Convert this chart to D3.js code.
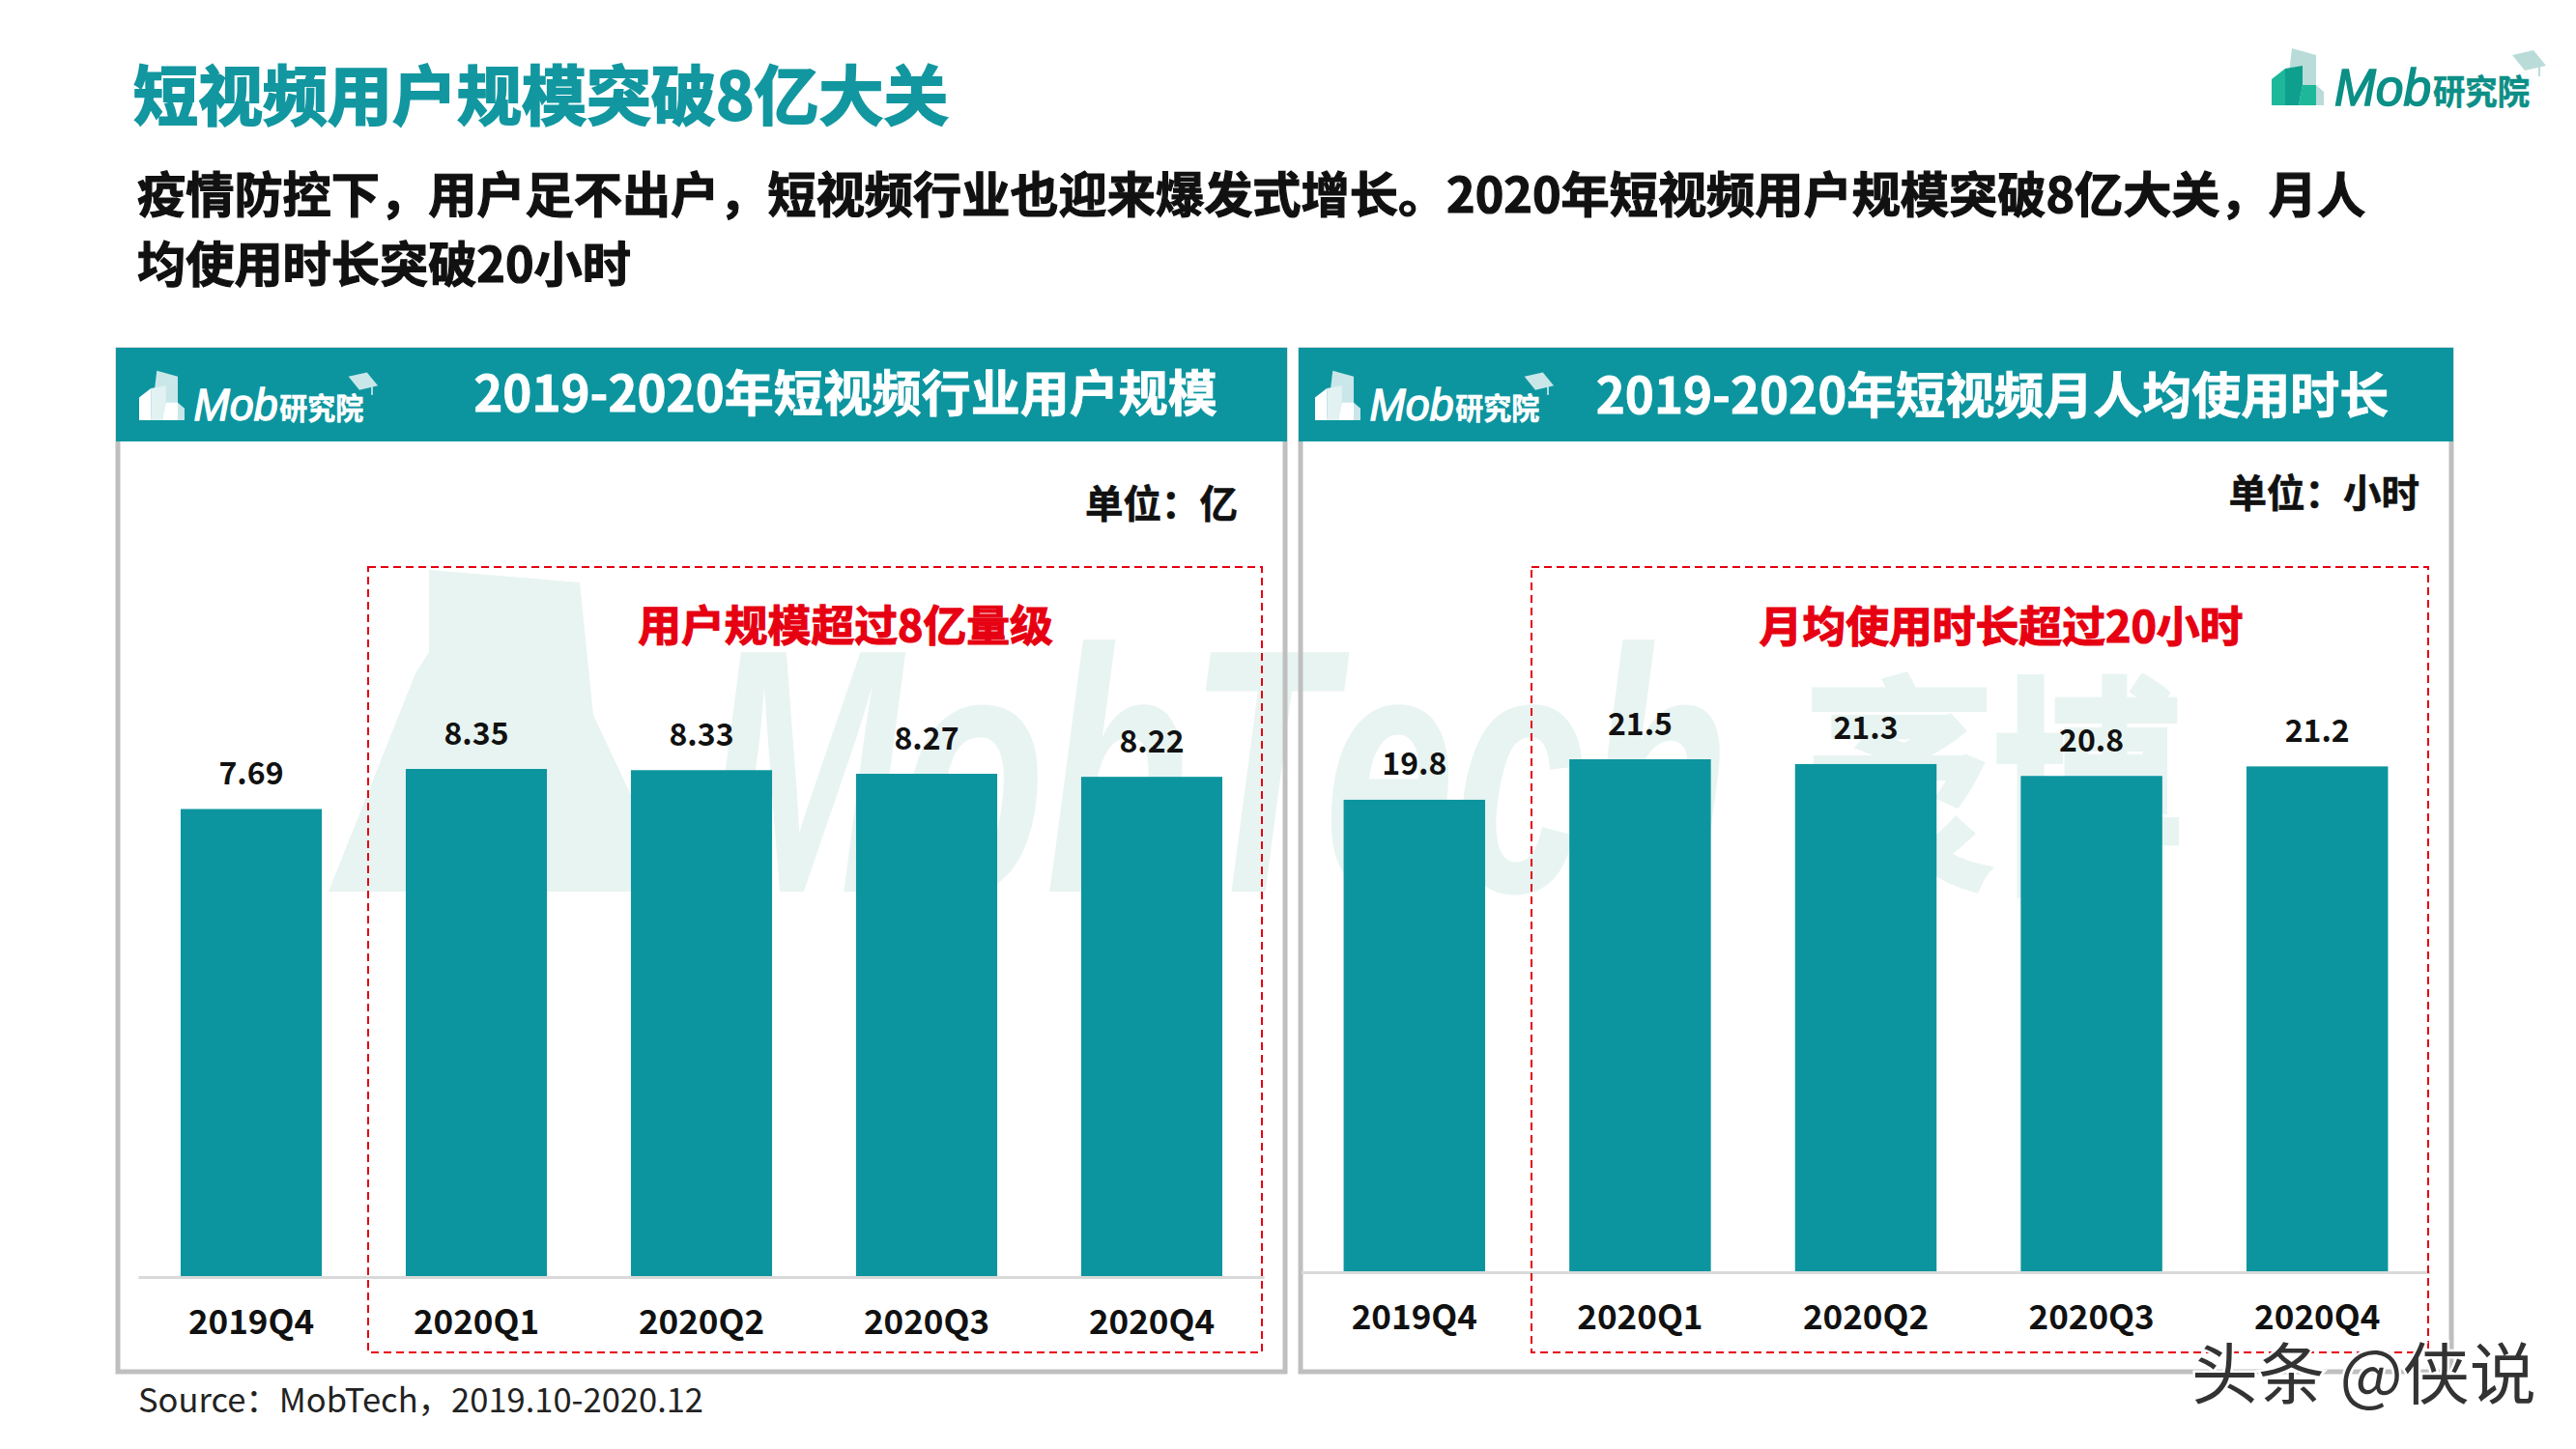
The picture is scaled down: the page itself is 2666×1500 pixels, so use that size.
<!DOCTYPE html>
<html>
<head>
<meta charset="utf-8">
<script src="https://cdn.jsdelivr.net/npm/d3@7/dist/d3.min.js"></script>
<style>
    body { margin: 0; background: #fff; }
    text { font-family: "Noto Sans CJK SC", "Noto Sans", sans-serif; }
    .axis path, .axis line { display: none; }
</style>
</head>
<body>
<div id="chart"></div>
<script>
var quarters = ["2019Q4", "2020Q1", "2020Q2", "2020Q3", "2020Q4"];
var userValues = [7.69, 8.35, 8.33, 8.27, 8.22];
var userLabels = ["7.69", "8.35", "8.33", "8.27", "8.22"];
var timeValues = [19.8, 21.5, 21.3, 20.8, 21.2];
var timeLabels = ["19.8", "21.5", "21.3", "20.8", "21.2"];

var mainTitle = "短视频用户规模突破8亿大关";
var subTitle = ["疫情防控下，用户足不出户，短视频行业也迎来爆发式增长。2020年短视频用户规模突破8亿大关，月人", "均使用时长突破20小时"];
var sourceText = "Source：MobTech，2019.10-2020.12";

var TEAL = "#0c959f";
var RED = "#e60012";

var svg = d3.select("#chart").append("svg").attr("width", 2666).attr("height", 1500).style("display", "block");

function addText(parent, str, x, y, size, color, anchor, heavy) {
    var t = parent.append("text")
        .attr("x", x).attr("y", y)
        .attr("dy", "0.36em")
        .attr("font-size", size)
        .attr("font-weight", "bold")
        .attr("fill", color)
        .attr("text-anchor", anchor || "start")
        .text(str);
    if (heavy) {
        t.attr("stroke", color).attr("stroke-width", heavy);
    }
    return t;
}

// background watermark, sits under the panels' bars
var mark = svg.append("g").attr("fill", "#e8f4f1");
mark.append("path").attr("d", "M340,923 L430,697 L444,675 L444,590 L600,603 L614,740 L700,923 Z");
mark.append("text").attr("x", 730).attr("y", 923)
    .attr("font-size", 360).attr("font-style", "italic").attr("font-weight", "bold")
    .attr("textLength", 1060).attr("lengthAdjust", "spacingAndGlyphs")
    .style("font-family", "'Liberation Sans'")
    .text("MobTech");
mark.append("text").attr("x", 1868).attr("y", 905)
    .attr("font-size", 240).attr("font-weight", "bold")
    .attr("stroke", "#e8f4f1").attr("stroke-width", 6)
    .attr("textLength", 390).attr("lengthAdjust", "spacingAndGlyphs")
    .text("袤博");

function drawLogo(x, y, k, mono) {
    var g = svg.append("g").attr("transform", "translate(" + x + "," + y + ") scale(" + k + ")");
    var back = mono ? "#c9e6e8" : "#b9dcd9";
    var light = mono ? "#ffffff" : "#1db89a";
    var dark = mono ? "#e2f2f3" : "#0f9f8e";
    var word = mono ? "#ffffff" : "#0b8f86";
    g.append("path").attr("d", "M21,-59 L46,-52 L46,-21 L54,-14 L54,0 L14,0 Z").attr("fill", back);
    g.append("path").attr("d", "M0,0 L0,-27 L14,-38 L14,0 Z").attr("fill", light);
    g.append("path").attr("d", "M14,-38 L32,-41 L32,-21 L28,0 L14,0 Z").attr("fill", dark);
    g.append("path").attr("d", "M28,0 L32,-21 L46,-21 L46,0 Z").attr("fill", light);
    g.append("text").attr("x", 65).attr("y", 0)
        .attr("font-size", 54).attr("font-style", "italic")
        .attr("textLength", 100).attr("lengthAdjust", "spacingAndGlyphs")
        .attr("fill", word).attr("stroke", word).attr("stroke-width", 1.6)
        .style("font-family", "'Liberation Sans'")
        .text("Mob");
    g.append("text").attr("x", 167).attr("y", -1)
        .attr("font-size", 35).attr("font-weight", "bold")
        .attr("textLength", 100).attr("lengthAdjust", "spacingAndGlyphs")
        .attr("fill", word).attr("stroke", word).attr("stroke-width", 0.6)
        .text("研究院");
    g.append("path").attr("d", "M249,-52 L271,-57 L284,-41 L262,-36 Z").attr("fill", back);
    g.append("rect").attr("x", 276).attr("y", -41).attr("width", 2).attr("height", 11).attr("fill", back);
}

function drawPanel(p) {
    var x = d3.scaleBand()
        .domain(quarters)
        .range(p.range)
        .paddingInner(0.373)
        .paddingOuter(0.1865);
    var y = d3.scaleLinear()
        .domain([0, p.top])
        .range([p.base, p.base - 530 * p.top / p.max]);

    svg.append("rect")
        .attr("x", p.frame[0]).attr("y", 362)
        .attr("width", p.frame[1] - p.frame[0]).attr("height", p.bottom - 362)
        .attr("fill", "none")
        .attr("stroke", "#bfbfbf").attr("stroke-width", 5);
    svg.append("rect")
        .attr("x", p.frame[0] - 2).attr("y", 360)
        .attr("width", p.frame[1] - p.frame[0] + 4).attr("height", 97)
        .attr("fill", TEAL);

    drawLogo(p.logoX, 435, 0.87, true);
    addText(svg, p.title, p.titleX, p.titleY, 51, "#fff", "middle", 0.8);
    addText(svg, p.unit, p.unitX, p.unitY, 39.5, "#111", "end", 0.6);

    svg.append("g")
        .attr("class", "axis")
        .attr("transform", "translate(0," + p.base + ")")
        .call(d3.axisBottom(x).tickSize(0).tickPadding(0))
        .selectAll("text")
        .attr("y", p.labelY - p.base)
        .attr("dy", "0.36em")
        .attr("font-size", 35)
        .attr("font-weight", "bold")
        .attr("fill", "#111");

    svg.append("line")
        .attr("x1", p.range[0]).attr("x2", p.range[1])
        .attr("y1", p.base + 1.5).attr("y2", p.base + 1.5)
        .attr("stroke", "#d9d9d9").attr("stroke-width", 3);

    svg.selectAll(null)
        .data(p.values)
        .enter().append("rect")
        .attr("x", function (d, i) { return x(quarters[i]); })
        .attr("y", function (d) { return y(d); })
        .attr("width", x.bandwidth())
        .attr("height", function (d) { return y(0) - y(d); })
        .attr("fill", TEAL);

    svg.selectAll(null)
        .data(p.values)
        .enter().append("text")
        .attr("x", function (d, i) { return x(quarters[i]) + x.bandwidth() / 2; })
        .attr("y", function (d) { return y(d) - 37; })
        .attr("dy", "0.36em")
        .attr("text-anchor", "middle")
        .attr("font-size", 32)
        .attr("font-weight", "bold")
        .attr("fill", "#111")
        .text(function (d, i) { return p.labels[i]; });

    svg.append("rect")
        .attr("x", p.box[0]).attr("y", 587)
        .attr("width", p.box[1] - p.box[0]).attr("height", 813)
        .attr("fill", "none")
        .attr("stroke", RED).attr("stroke-width", 2)
        .attr("stroke-dasharray", "8,5");
    addText(svg, p.note, p.noteX, p.noteY, 44.8, RED, "middle", 1.2);
}

addText(svg, mainTitle, 138, 100, 67, "#1297a0", "start", 2);
addText(svg, subTitle[0], 142, 202, 50.2, "#111", "start", 1.2);
addText(svg, subTitle[1], 142, 274, 50.2, "#111", "start", 1.2);
drawLogo(2351, 109, 1, false);

drawPanel({
    values: userValues, labels: userLabels, top: 9, max: 8.35 * 530 / 525,
    range: [143.5, 1308.5], base: 1321, frame: [122, 1330], bottom: 1420,
    logoX: 144, title: "2019-2020年短视频行业用户规模", titleX: 875, titleY: 408,
    unit: "单位：亿", unitX: 1281, unitY: 522,
    labelY: 1368, box: [381, 1306],
    note: "用户规模超过8亿量级", noteX: 875, noteY: 648
});
drawPanel({
    values: timeValues, labels: timeLabels, top: 23, max: 21.5,
    range: [1347, 2515], base: 1316, frame: [1346, 2537], bottom: 1420,
    logoX: 1361, title: "2019-2020年短视频月人均使用时长", titleX: 2062, titleY: 410,
    unit: "单位：小时", unitX: 2504, unitY: 511,
    labelY: 1363, box: [1585, 2513],
    note: "月均使用时长超过20小时", noteX: 2071, noteY: 649
});

svg.append("text")
    .attr("x", 143).attr("y", 1450).attr("dy", "0.36em")
    .attr("font-size", 34.5)
    .attr("fill", "#222")
    .text(sourceText);

// site stamp bottom right, white halo cuts through the frame
svg.append("text")
    .attr("x", 2268).attr("y", 1423).attr("dy", "0.36em")
    .attr("font-size", 69)
    .attr("fill", "#333")
    .attr("stroke", "#fff").attr("stroke-width", 5)
    .style("paint-order", "stroke")
    .text("头条 @侠说");
</script>
</body>
</html>
